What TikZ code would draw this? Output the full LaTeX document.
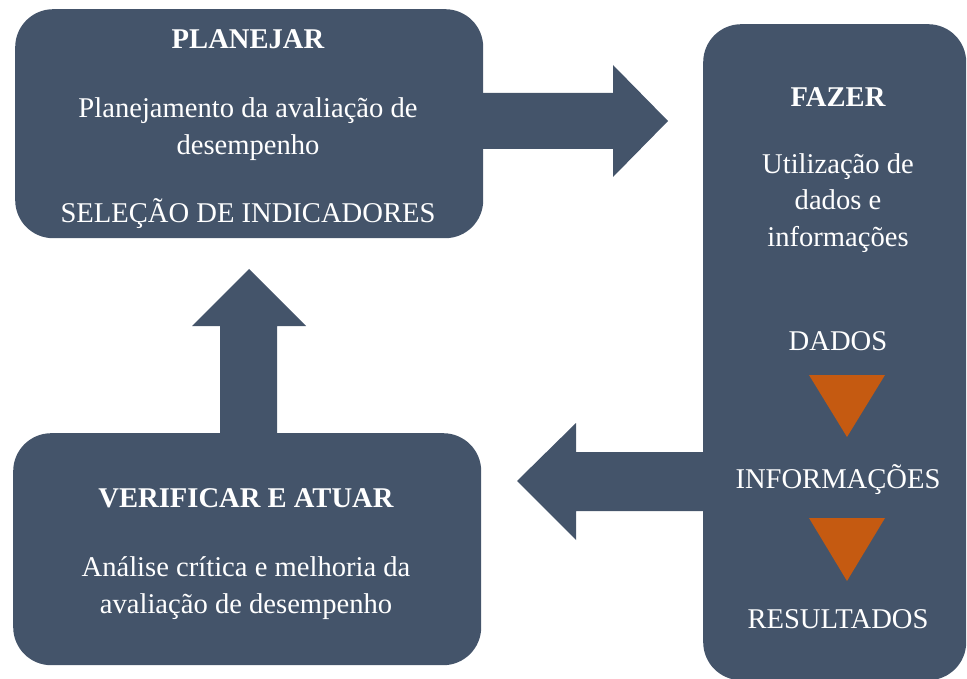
\documentclass[tikz,border=0pt]{standalone}
\usepackage{fontspec}
\setmainfont{Liberation Serif}
\definecolor{slate}{HTML}{44546A}
\definecolor{rust}{HTML}{C55A11}
\begin{document}
\begin{tikzpicture}[x=1pt,y=-1pt,
  box/.style={fill=slate, draw=none, rounded corners=38pt, inner sep=0pt},
  blk/.style={fill=slate},
  tri/.style={fill=rust},
  txt/.style={text=white, font=\fontsize{28.6}{36.5}\selectfont, align=center, inner sep=0pt},
  hd/.style={text=white, font=\fontsize{28.6}{36.5}\selectfont\bfseries, align=center, inner sep=0pt}]
\useasboundingbox (0,0) rectangle (967,679);
% boxes
\node[box, minimum width=468pt, minimum height=229pt, anchor=north west] (plan) at (15,9) {};
\node[box, minimum width=263pt, minimum height=656pt, anchor=north west] (fazer) at (703,24) {};
\node[box, minimum width=468pt, minimum height=232pt, anchor=north west] (verif) at (13,433) {};
% block arrows
\fill[blk] (480,93) -- (613,93) -- (613,65) -- (668,121) -- (613,177) -- (613,149) -- (480,149) -- cycle;
\fill[blk] (220,436) -- (220,326) -- (192,326) -- (249,269) -- (306,326) -- (277,326) -- (277,436) -- cycle;
\fill[blk] (706,452) -- (576,452) -- (576,423) -- (517,481) -- (576,540) -- (576,511) -- (706,511) -- cycle;
% triangles
\fill[tri] (809,375) -- (885,375) -- (847,437) -- cycle;
\fill[tri] (809,518) -- (885,518) -- (847,581) -- cycle;
% texts
\node[hd] (planT) at (248,39) {PLANEJAR};
\node[txt] (planD) at (248,129) {Planejamento da avaliação de\\desempenho};
\node[txt] (planS) at (248,214) {SELEÇÃO DE INDICADORES};
\node[hd] (fazT) at (838,97) {FAZER};
\node[txt] (fazD) at (838,203) {Utilização de\\dados e\\informações};
\node[txt] (dados) at (838,341) {DADOS};
\node[txt] (info) at (838,480) {INFORMAÇÕES};
\node[txt] (res) at (838,619) {RESULTADOS};
\node[hd] (verT) at (246,498) {VERIFICAR E ATUAR};
\node[txt] (verD) at (246,588) {Análise crítica e melhoria da\\avaliação de desempenho};
\end{tikzpicture}
\end{document}
